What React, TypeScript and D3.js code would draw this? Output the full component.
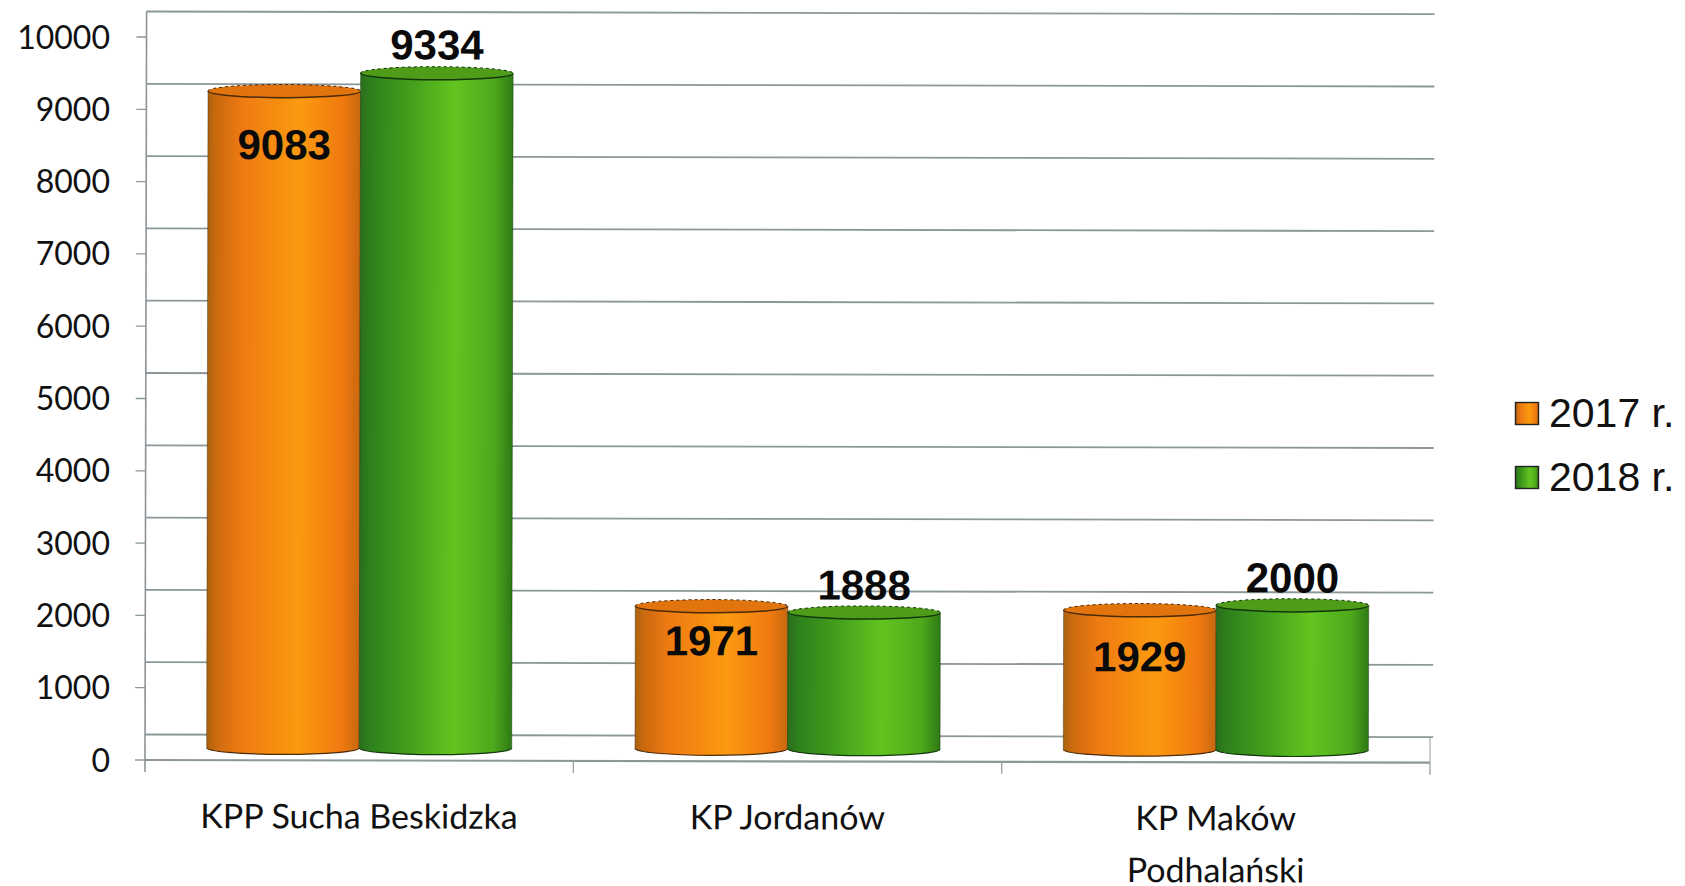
import * as d3 from "d3";

const categories = [["KPP Sucha Beskidzka"], ["KP Jordanów"], ["KP Maków", "Podhalański"]];
const seriesNames = ["2017 r.", "2018 r."];
const values2017 = [9083, 1971, 1929];
const values2018 = [9334, 1888, 2000];
const yTicks = [0, 1000, 2000, 3000, 4000, 5000, 6000, 7000, 8000, 9000, 10000];

const width = 1685;
const height = 886;

const left = 145;
const right = 1430;
const yZero = 760;
const yTop = 37;
const depth = 25.5; // back wall sits higher than the floor front edge
const barLift = 12.5;
const ry = 6.6;

const gridColor = "#8c9797";
const latin = "Lato, 'Open Sans', sans-serif";
const arial = "'Liberation Sans', Arial, sans-serif";

// label distance from the top of the cylinder, by series then category
const labelShift = [
    [53, 34, 46],
    [-29, -28, -28]
];

const stops = [
    [
        ["0%", "#a9620f"],
        ["5%", "#c8690f"],
        ["22%", "#ee7a12"],
        ["60%", "#fb9a10"],
        ["88%", "#f07a10"],
        ["100%", "#c8680f"]
    ],
    [
        ["0%", "#2b6e1c"],
        ["8%", "#2f821c"],
        ["30%", "#419c1c"],
        ["62%", "#63c41f"],
        ["88%", "#4ea81b"],
        ["100%", "#2f7a16"]
    ]
];
const topFill = ["#e2740e", "#4f9c18"];
const outline = ["#4a2a08", "#12360e"];

const App = () => {
    const scaleY = d3.scaleLinear().domain([0, 10000]).range([yZero, yTop]);
    const scaleX = d3.scaleBand<number>().domain([0, 1, 2]).range([left, right]);
    const scaleSeries = d3
        .scaleBand<number>()
        .domain([0, 1])
        .range([0, scaleX.bandwidth()])
        .paddingInner(0)
        .paddingOuter(0.404);
    const rx = scaleSeries.bandwidth() / 2;
    const series = [values2017, values2018];
    const xTicks = [0, 1, 2].map(i => scaleX(i) as number).concat(right);

    return (
        <svg
            width={width}
            height={height}
            style={{ position: "absolute", left: 0, top: 0, background: "#fff" }}
        >
            <defs>
                {stops.map((list, i) => (
                    <linearGradient key={i} id={`cyl-${i}`} x1="0" x2="1" y1="0" y2="0">
                        {list.map(([offset, color]) => (
                            <stop key={offset} offset={offset} stopColor={color} />
                        ))}
                    </linearGradient>
                ))}
            </defs>

            {/* y axis labels */}
            {yTicks.map(t => (
                <text
                    key={t}
                    x={110}
                    y={scaleY(t)}
                    dy="0.36em"
                    textAnchor="end"
                    fontFamily={latin}
                    fontSize={32}
                    fill="#111"
                >
                    {t}
                </text>
            ))}

            {/* whole plot sits slightly rotated, it is a scan */}
            <g transform={`rotate(0.12 ${left} ${yZero})`}>
                {yTicks.map(t => (
                    <line
                        key={t}
                        x1={left}
                        x2={right + 3}
                        y1={scaleY(t) - depth + (t === 0 ? 0 : 0)}
                        y2={scaleY(t) - depth}
                        stroke={gridColor}
                        strokeWidth={1.8}
                    />
                ))}
                {yTicks.map(t => (
                    <line
                        key={t}
                        x1={left - 10}
                        x2={left}
                        y1={scaleY(t)}
                        y2={scaleY(t)}
                        stroke={gridColor}
                        strokeWidth={1.3}
                    />
                ))}
                <line x1={left} x2={left} y1={scaleY(10000) - depth} y2={yZero + 12} stroke="#8d9399" strokeWidth={1.6} />
                <line x1={left} x2={right} y1={yZero} y2={yZero} stroke={gridColor} strokeWidth={2.2} />
                {xTicks.slice(1).map(x => (
                    <line key={x} x1={x} x2={x} y1={yZero} y2={yZero + 12} stroke="#9aa0a0" strokeWidth={1.3} />
                ))}
                <line x1={right} x2={right} y1={yZero - depth} y2={yZero} stroke="#a8adad" strokeWidth={1.2} />

                {series.map((vals, s) =>
                    vals.map((v, c) => {
                        const x0 = (scaleX(c) as number) + (scaleSeries(s) as number);
                        const x1 = x0 + rx * 2;
                        const yt = scaleY(v) - barLift;
                        const yb = scaleY(0) - barLift;
                        return (
                            <g key={`${s}-${c}`}>
                                <path
                                    d={`M${x0},${yt} L${x1},${yt} L${x1},${yb} A${rx},${ry} 0 0 1 ${x0},${yb} Z`}
                                    fill={`url(#cyl-${s})`}
                                />
                                <path
                                    d={`M${x0},${yb} A${rx},${ry} 0 0 0 ${x1},${yb}`}
                                    fill="none"
                                    stroke={outline[s]}
                                    strokeWidth={1.2}
                                />
                                <ellipse cx={x0 + rx} cy={yt} rx={rx} ry={ry} fill={topFill[s]} />
                                <path
                                    d={`M${x0},${yt} A${rx},${ry} 0 0 0 ${x1},${yt}`}
                                    fill="none"
                                    stroke={outline[s]}
                                    strokeWidth={1.5}
                                />
                                <path
                                    d={`M${x0},${yt} A${rx},${ry} 0 0 1 ${x1},${yt}`}
                                    fill="none"
                                    stroke={outline[s]}
                                    strokeWidth={1}
                                    strokeDasharray="3 3"
                                />
                                <line x1={x0} x2={x0} y1={yt} y2={yb} stroke={outline[s]} strokeOpacity={0.45} strokeWidth={1} />
                                <line x1={x1} x2={x1} y1={yt} y2={yb} stroke={outline[s]} strokeOpacity={0.45} strokeWidth={1} />
                            </g>
                        );
                    })
                )}

                {series.map((vals, s) =>
                    vals.map((v, c) => (
                        <text
                            key={`${s}-${c}`}
                            x={(scaleX(c) as number) + (scaleSeries(s) as number) + rx}
                            y={scaleY(v) - barLift + labelShift[s][c]}
                            dy="0.36em"
                            textAnchor="middle"
                            fontFamily={arial}
                            fontWeight="bold"
                            fontSize={42}
                            fill="#0a0a0a"
                        >
                            {v}
                        </text>
                    ))
                )}

                {categories.map((lines, c) =>
                    lines.map((line, l) => (
                        <text
                            key={line}
                            x={(scaleX(c) as number) + scaleX.bandwidth() / 2}
                            y={828 + l * 52}
                            textAnchor="middle"
                            fontFamily={latin}
                            fontSize={34}
                            fill="#111"
                        >
                            {line}
                        </text>
                    ))
                )}
            </g>

            {/* legend */}
            {seriesNames.map((name, s) => (
                <g key={name} transform={`translate(1515, ${402 + s * 64})`}>
                    <rect x={0.5} y={0.5} width={23} height={22} fill={`url(#cyl-${s})`} stroke="#222" strokeWidth={1.4} />
                    <text x={34} y={25} fontFamily={arial} fontSize={41} fill="#111">
                        {name}
                    </text>
                </g>
            ))}
        </svg>
    );
};

export default App;
